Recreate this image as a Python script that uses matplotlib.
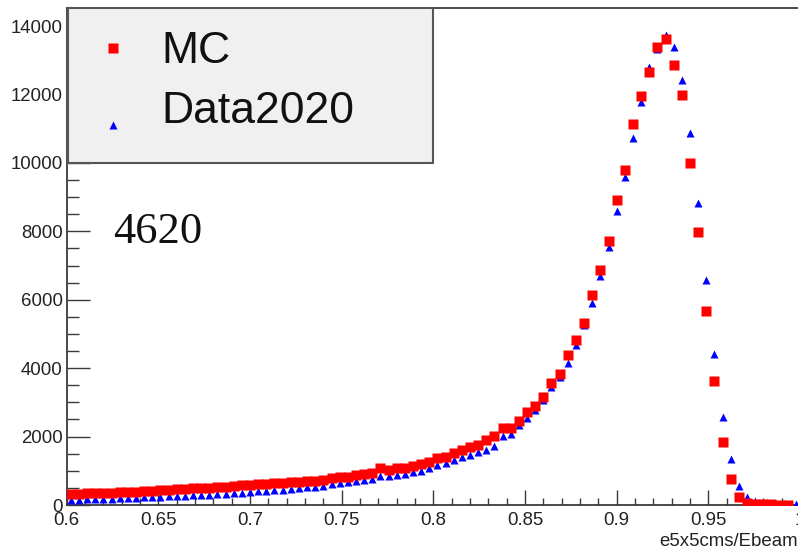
import numpy as np
import matplotlib
matplotlib.use("Agg")
import matplotlib.pyplot as plt
from matplotlib.ticker import MultipleLocator, FuncFormatter
from matplotlib.patches import Rectangle

# histogram: 90 bins on [0.6, 1.0]
x_lo, x_hi, n_bins = 0.6, 1.0, 90
bin_centers = x_lo + (np.arange(n_bins) + 0.5) * (x_hi - x_lo) / n_bins

mc_counts = [
    330, 330, 345, 340, 355, 360, 370, 380, 390, 400,
    415, 430, 440, 455, 470, 485, 495, 510, 525, 540,
    560, 575, 595, 610, 625, 640, 655, 670, 685, 700,
    711, 731, 780, 810, 828, 877, 906, 944, 1073, 1023,
    1073, 1073, 1140, 1199, 1266, 1365, 1412, 1511, 1608, 1687,
    1754, 1901, 2018, 2243, 2243, 2465, 2728, 2895, 3167, 3558,
    3830, 4376, 4825, 5330, 6140, 6863, 7711, 8918, 9795, 11124,
    11959, 12652, 13401, 13617, 12866, 11988, 9991, 7983, 5681, 3635,
    1833, 760, 225, 50, 30, 20, 15, 10, 8, 0,
]
data_counts = [
    150, 155, 165, 170, 180, 185, 195, 200, 210, 220,
    230, 240, 250, 262, 270, 282, 295, 305, 320, 335,
    350, 365, 380, 395, 410, 430, 450, 470, 490, 515,
    540, 570, 610, 640, 670, 710, 740, 770, 840, 840,
    870, 900, 955, 985, 1080, 1160, 1230, 1325, 1395, 1470,
    1550, 1620, 1720, 2010, 2080, 2350, 2545, 2790, 3080, 3450,
    3750, 4143, 4678, 5250, 5898, 6696, 7553, 8597, 9600, 10740,
    11792, 12816, 13324, 13743, 13401, 12427, 10886, 8822, 6579, 4415,
    2582, 1336, 556, 243, 120, 60, 35, 25, 15, 15,
]

series_names = ["MC", "Data2020"]
energy_label = "4620"
x_title = "e5x5cms/Ebeam"

mc = np.asarray(mc_counts, dtype=float)
dat = np.asarray(data_counts, dtype=float)

plt.rcParams["font.family"] = ["Liberation Sans", "DejaVu Sans"]

W, H = 798, 549
fig = plt.figure(figsize=(W / 100, H / 100), dpi=100)
fig.patch.set_facecolor("w")
ax = fig.add_axes([66.7 / W, 44 / H, 733.3 / W, 496.7 / H])

frame_c = "#3a3a3a"
mc_style = dict(ls="none", marker="s", mec="none", color="#ff0000")
dat_style = dict(ls="none", marker="^", mec="none", color="#0000ff")

# empty bins are not drawn (ROOT "P" style)
m_d = dat > 0
m_m = mc > 0
ax.plot(bin_centers[m_d], dat[m_d], ms=6.0, zorder=3, **dat_style)
ax.plot(bin_centers[m_m], mc[m_m], ms=6.5, zorder=4, **mc_style)

ax.set_xlim(x_lo, x_hi)
ax.set_ylim(0, 14520)

for side in ("left", "bottom", "top", "right"):
    ax.spines[side].set_color(frame_c)
    ax.spines[side].set_linewidth(1.3)

ax.xaxis.set_major_locator(MultipleLocator(0.05))
ax.xaxis.set_minor_locator(MultipleLocator(0.01))
ax.yaxis.set_major_locator(MultipleLocator(2000))
ax.yaxis.set_minor_locator(MultipleLocator(500))
ax.xaxis.set_major_formatter(FuncFormatter(lambda v, p: "%g" % round(v, 3)))
ax.yaxis.set_major_formatter(FuncFormatter(lambda v, p: "%d" % v))

ax.tick_params(axis="x", which="major", direction="in", length=10.8, width=1.0,
               color=frame_c, labelsize=13.4, labelcolor="#222222", pad=4.8,
               top=False)
ax.tick_params(axis="x", which="minor", direction="in", length=5.0, width=1.0,
               color=frame_c, top=False)
ax.tick_params(axis="y", which="major", direction="in", length=16.6, width=1.0,
               color=frame_c, labelsize=13.4, labelcolor="#222222", pad=2.9,
               right=False)
ax.tick_params(axis="y", which="minor", direction="in", length=8.4, width=1.0,
               color=frame_c, right=False)

ax.set_xlabel(x_title, fontsize=13.4, color="#222222", loc="right")
ax.xaxis.set_label_coords(0.9973, -0.0558)
ax.xaxis.label.set_verticalalignment("top")

ax.text(0.063, 0.527, energy_label, transform=ax.transAxes,
        family=["Liberation Serif", "DejaVu Serif"], fontsize=32,
        va="baseline", ha="left", color="#111111")

# legend box (ROOT TLegend look), placed in axes fractions
ax.add_patch(Rectangle((0.0022, 0.688), 0.4977, 0.312, transform=ax.transAxes,
                       facecolor="#f0f0f0", edgecolor="#555555", lw=1.5,
                       zorder=5, clip_on=False))
legend_rows = [(0.921, 0.8893, mc_style, 7.5), (0.765, 0.7688, dat_style, 6.0)]
for name, (y_mark, y_text, style, ms) in zip(series_names, legend_rows):
    ax.plot([0.0631], [y_mark], transform=ax.transAxes, ms=ms, zorder=6,
            clip_on=False, **style)
    ax.text(0.1286, y_text, name, transform=ax.transAxes, fontsize=32,
            va="baseline", ha="left", color="#111111", zorder=6)

fig.savefig("out.png", dpi=100, facecolor="w")
